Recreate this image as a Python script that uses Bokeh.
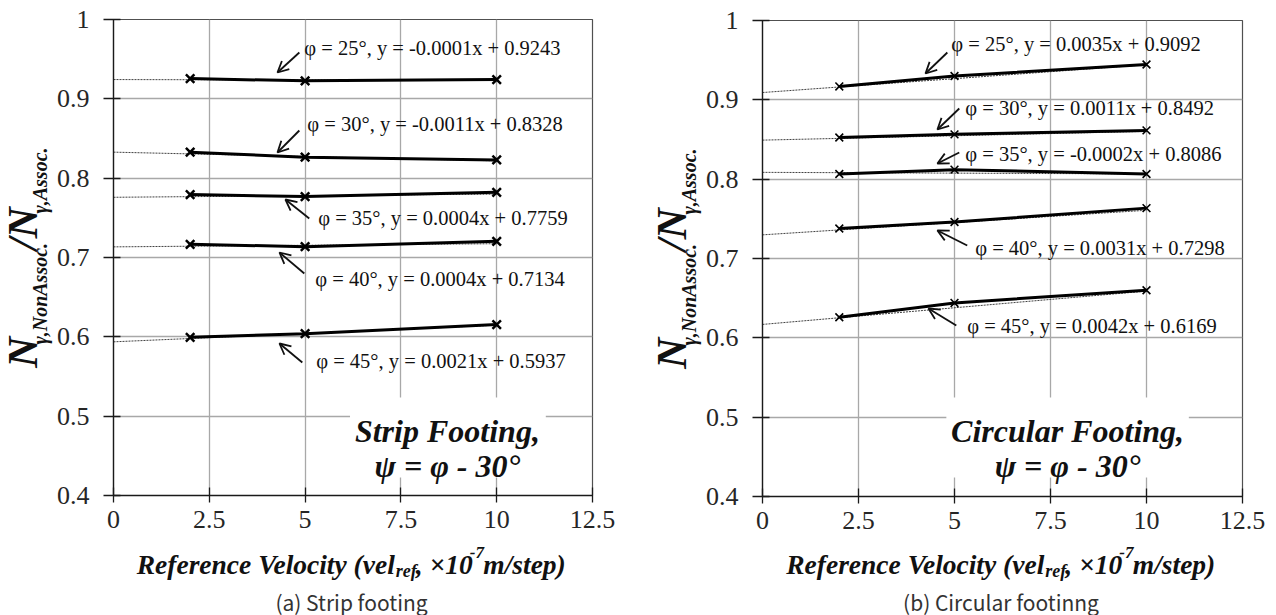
import math
from bokeh.plotting import figure
from bokeh.layouts import row, column
from bokeh.models import Label, Arrow, OpenHead, FixedTicker, NumeralTickFormatter
from bokeh.embed import file_html
from bokeh.resources import INLINE

# ---------------- data ----------------
x_vel = [2, 5, 10]
phi_deg = [25, 30, 35, 40, 45]

strip_phi25 = [0.9255, 0.9227, 0.9243]
strip_phi30 = [0.8327, 0.8264, 0.8230]
strip_phi35 = [0.7793, 0.7768, 0.7822]
strip_phi40 = [0.7166, 0.7137, 0.7204]
strip_phi45 = [0.5994, 0.6040, 0.6155]
strip_slope = [-0.0001, -0.0011, 0.0004, 0.0004, 0.0021]
strip_intercept = [0.9243, 0.8328, 0.7759, 0.7134, 0.5937]

circ_phi25 = [0.9169, 0.9300, 0.9446]
circ_phi30 = [0.8525, 0.8565, 0.8615]
circ_phi35 = [0.8065, 0.8120, 0.8065]
circ_phi40 = [0.7378, 0.7460, 0.7635]
circ_phi45 = [0.6260, 0.6440, 0.6600]
circ_slope = [0.0035, 0.0011, -0.0002, 0.0031, 0.0042]
circ_intercept = [0.9092, 0.8492, 0.8086, 0.7298, 0.6169]

x_ticks = [0, 2.5, 5, 7.5, 10, 12.5]
x_tick_labels = ["0", "2.5", "5", "7.5", "10", "12.5"]
y_ticks = [0.4, 0.5, 0.6, 0.7, 0.8, 0.9, 1.0]
y_tick_labels = ["0.4", "0.5", "0.6", "0.7", "0.8", "0.9", "1"]

panel_titles = ["Strip Footing,", "Circular Footing,"]
panel_subtitle = "\u03c8 = \u03c6 - 30\u00b0"
captions = ["(a) Strip footing", "(b) Circular footinng"]

SERIF = "Liberation Serif"
INK = "#111111"

# Times bold-italic advance widths (per 1000 em), for placing pieces of rich text
TBI = {' ': 250, '(': 333, ')': 333, ',': 250, '-': 333, '.': 250, '/': 278,
       '0': 500, '1': 500, '7': 500, 'A': 667, 'N': 722, 'R': 667, 'V': 667,
       'a': 500, 'c': 444, 'e': 444, 'f': 333, 'i': 278, 'l': 278, 'm': 778,
       'n': 556, 'o': 500, 'p': 500, 'r': 389, 's': 389, 't': 278, 'v': 444,
       'y': 444, '\u00d7': 570, '\u03b3': 440}
ASC, DESC = 0.891, 0.216   # Liberation Serif ascent / descent (em)


def tw(s, size):
    return sum(TBI.get(ch, 500) for ch in s) * size / 1000.0


PANEL_W = 638
TOTAL_H = 615
MAIN_H = 543
BOTTOM_H = TOTAL_H - MAIN_H
LEFT_BORDER = 57


def text_canvas(w, h):
    f = figure(width=w, height=h, x_range=(0, w), y_range=(0, h), title=None,
               x_axis_location=None, y_axis_location=None,
               output_backend="svg", toolbar_location=None,
               min_border_left=0, min_border_right=0, min_border_top=0, min_border_bottom=0)
    f.grid.visible = False
    f.outline_line_color = None
    f.background_fill_color = "white"
    f.border_fill_color = "white"
    return f


def lab(x, y, text, size, style="normal", align="left", baseline="alphabetic",
        angle=0.0, font=SERIF, color=INK):
    return Label(x=x, y=y, text=text, text_font=font, text_font_style=style,
                 text_font_size=f"{size}px", text_align=align, text_baseline=baseline,
                 angle=angle, text_color=color)


def make_panel(series, slopes, intercepts, cfg):
    fl, ft, fw, fh = cfg["frame_left"], cfg["frame_top"], cfg["frame_w"], cfg["frame_h"]
    fig_left = cfg["fig_left"]
    yt_w = fl - fig_left - LEFT_BORDER
    main_w = PANEL_W - yt_w
    p = figure(width=main_w, height=MAIN_H, x_range=(0, 12.5), y_range=(0.4, 1.0),
               output_backend="svg", toolbar_location=None,
               min_border_left=LEFT_BORDER, min_border_right=main_w - LEFT_BORDER - fw,
               min_border_top=ft, min_border_bottom=MAIN_H - ft - fh)
    p.background_fill_color = "white"
    p.border_fill_color = "white"
    p.outline_line_color = "#505050"
    p.outline_line_width = 1.2

    def dx(px):
        return (px - fl) / fw * 12.5

    def dy(py):
        return 1.0 - (py - ft) / fh * 0.6

    # axes
    p.xaxis.ticker = FixedTicker(ticks=x_ticks)
    p.yaxis.ticker = FixedTicker(ticks=y_ticks)
    p.xaxis.formatter = NumeralTickFormatter(format="0.[0]")
    p.yaxis.formatter = NumeralTickFormatter(format="0.[0]")
    p.xaxis.major_label_overrides = {t: l for t, l in zip(x_ticks, x_tick_labels)}
    p.yaxis.major_label_overrides = {t: l for t, l in zip(y_ticks, y_tick_labels)}
    for ax in (p.xaxis[0], p.yaxis[0]):
        ax.axis_line_color = "#1a1a1a"
        ax.axis_line_width = 1.3
        ax.major_tick_line_color = "#1a1a1a"
        ax.major_tick_line_width = 1.3
        ax.minor_tick_line_color = None
        ax.major_label_text_font = SERIF
        ax.major_label_text_font_size = "26px"
        ax.major_label_text_color = "#262626"
    p.xaxis.major_tick_out = 7
    p.xaxis.major_tick_in = 8
    p.xaxis.major_label_standoff = 8
    p.yaxis.major_tick_out = 10
    p.yaxis.major_tick_in = 7
    p.yaxis.major_label_standoff = 14
    p.grid.grid_line_color = "#a8a8a8"
    p.grid.grid_line_width = 1.3

    # white box behind the panel title
    bx0, bx1, by0, by1 = cfg["box"]
    p.quad(left=[dx(bx0)], right=[dx(bx1)], top=[dy(by0)], bottom=[dy(by1)],
           fill_color="white", line_color=None)

    # trend lines and data
    for ys, s, b in zip(series, slopes, intercepts):
        xf = [0, x_vel[-1]]
        yf = [b + s * xv for xv in xf]
        p.line(xf, yf, line_color="#404040", line_width=1, line_dash="2 1")
    for ys in series:
        p.line(x_vel, ys, line_color="black", line_width=3)
        p.scatter(x_vel, ys, marker="x", size=cfg["msize"], line_color="black",
                  line_width=cfg["mlw"])

    # equation annotations
    for ph, s, b, (tx, ty), (ax0, ay0, ax1, ay1) in zip(phi_deg, slopes, intercepts,
                                                         cfg["text_pos"], cfg["arrows"]):
        txt = f"\u03c6 = {ph}\u00b0, y = {s:.4f}x + {b:.4f}"
        p.add_layout(lab(dx(tx), dy(ty), txt, 20.5, baseline="middle"))
        p.add_layout(Arrow(x_start=dx(ax0), y_start=dy(ay0), x_end=dx(ax1), y_end=dy(ay1),
                           line_width=1.8, line_color=INK,
                           end=OpenHead(size=11, line_width=1.8, line_color=INK)))

    # panel title inside the box
    cx = cfg["title_cx"]
    for txt, base in ((cfg["title"], 430), (panel_subtitle, 465)):
        p.add_layout(lab(dx(cx), dy(base), txt, 32, style="bold italic", align="center"))

    # ---- y-axis title canvas (rotated rich text, placed by centres) ----
    yt = text_canvas(yt_w, MAIN_H)

    def ly(py):  # page y -> local canvas y (bottom-up)
        return MAIN_H - py

    big, small = 43, 20
    base_big = fl - 73 - fig_left
    base_small = fl - 64 - fig_left
    rot = math.pi / 2

    def put_rot(text, size, base_x, start_py):
        w = tw(text, size)
        cxp = base_x - (ASC - DESC) / 2.0 * size
        cyp = start_py - w / 2.0
        yt.add_layout(lab(cxp, ly(cyp), text, size, "bold italic", align="center",
                          baseline="middle", angle=rot))
        return start_py - w

    y_start = 395
    nxt = put_rot("N", big, base_big, y_start)
    put_rot("\u03b3,NonAssoc.", small, base_small, nxt)
    y_mid = 260
    nxt = put_rot("/N", big, base_big, y_mid)
    put_rot("\u03b3,Assoc.", small, base_small, nxt)

    # ---- x-axis title + caption canvas ----
    xt = text_canvas(PANEL_W, BOTTOM_H)

    def lby(py):
        return BOTTOM_H - (py - MAIN_H)

    S, s_sub, s_sup = 27.5, 18, 17
    p1, p2, p3, p4, p5 = "Reference Velocity (vel", "ref", ", \u00d710", "-7", "m/step)"
    total = tw(p1, S) + tw(p2, s_sub) + tw(p3, S) + tw(p4, s_sup) + tw(p5, S)
    xc = fl + fw / 2.0
    split = xc - total / 2.0 + tw(p1, S) - fig_left
    base = 564
    xt.add_layout(lab(split, lby(base), p1, S, "bold italic", align="right"))
    xpos = split + 1
    xt.add_layout(lab(xpos, lby(base + 6), p2, s_sub, "bold italic"))
    xpos += tw(p2, s_sub) * 0.95
    xt.add_layout(lab(xpos, lby(base), p3, S, "bold italic"))
    xpos += tw(p3, S) * 0.95
    xt.add_layout(lab(xpos, lby(base - 12), p4, s_sup, "bold italic"))
    xpos += tw(p4, s_sup) * 0.95
    xt.add_layout(lab(xpos, lby(base), p5, S, "bold italic"))

    xt.add_layout(lab(xc - fig_left, lby(601), cfg["caption"], 21, align="center",
                      baseline="middle", font="Noto Sans CJK KR", color="#333333"))

    return column(row(yt, p), xt)


strip_series = [strip_phi25, strip_phi30, strip_phi35, strip_phi40, strip_phi45]
circ_series = [circ_phi25, circ_phi30, circ_phi35, circ_phi40, circ_phi45]

cfg_left = dict(
    fig_left=0, frame_left=110, frame_top=19, frame_w=482, frame_h=476,
    msize=12, mlw=2.5,
    box=(348, 545, 397, 477), title_cx=446, title=panel_titles[0], caption=captions[0],
    text_pos=[(302, 47), (305, 123), (316, 217), (313, 278), (314, 360)],
    arrows=[(297, 52, 275, 72), (297, 130, 275, 152), (307, 218, 283, 199),
            (302, 273, 277, 252), (300, 362, 277, 343)],
)
cfg_right = dict(
    fig_left=638, frame_left=759, frame_top=20, frame_w=483, frame_h=476,
    msize=11, mlw=1.6,
    box=(944, 1188, 397, 477), title_cx=1066, title=panel_titles[1], caption=captions[1],
    text_pos=[(949, 43), (963, 107), (963, 153), (973, 247), (965, 325)],
    arrows=[(945, 52, 923, 73), (957, 108, 935, 129), (957, 152, 935, 163),
            (965, 245, 935, 230), (954, 325, 926, 308)],
)

left_panel = make_panel(strip_series, strip_slope, strip_intercept, cfg_left)
right_panel = make_panel(circ_series, circ_slope, circ_intercept, cfg_right)
layout = row(left_panel, right_panel)

open("out.html", "w").write(file_html(layout, INLINE))
